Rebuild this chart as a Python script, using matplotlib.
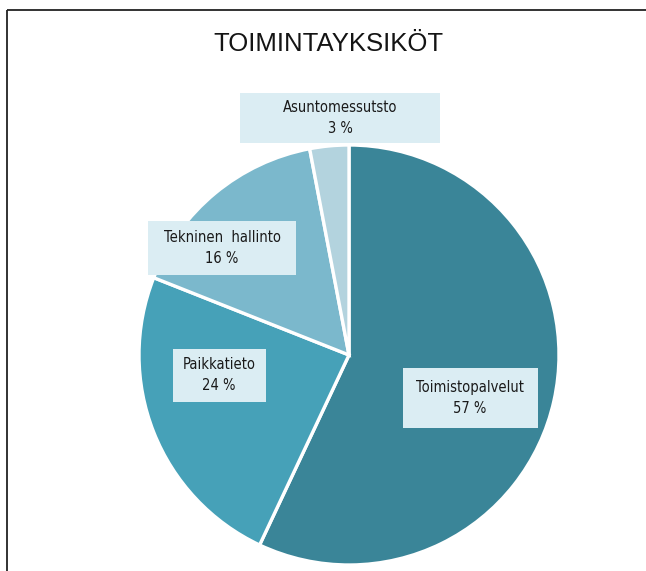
import matplotlib
matplotlib.use("Agg")
import matplotlib.pyplot as plt
from matplotlib import font_manager
from matplotlib.patches import Rectangle

# Data
categories = ["Toimistopalvelut", "Paikkatieto", "Tekninen  hallinto", "Asuntomessutsto"]
shares = [57, 24, 16, 3]
colors = ["#3a8598", "#46a1b8", "#7bb8cc", "#b3d3de"]
title = "TOIMINTAYKSIKÖT"

# Label box layout in pixels: centre x, centre y, width, height
label_boxes = [
    (470, 398, 135, 60),
    (219, 375, 93, 53),
    (222, 248, 148, 54),
    (340, 118, 200, 50),
]

W, H = 646, 571
CX, CY, R = 349, 355, 210

# look for a condensed face, the reference labels use a narrow font
fonts = font_manager.fontManager.ttflist
names = {f.name for f in fonts}
condensed = [f for f in fonts if f.name == "DejaVu Sans" and "Condensed" in f.fname]
if "Liberation Sans Narrow" in names:
    lab_font = dict(family="Liberation Sans Narrow", fontsize=12.5)
elif condensed:
    lab_font = dict(family="DejaVu Sans", fontstretch="condensed", fontsize=10.5)
else:
    lab_font = dict(family="Liberation Sans", fontsize=10.8)

fig = plt.figure(figsize=(W / 100, H / 100), dpi=100)

# pie axes
ax = fig.add_axes([(CX - R) / W, (H - CY - R) / H, 2 * R / W, 2 * R / H])
ax.pie(shares, colors=colors, startangle=90, counterclock=False,
       radius=1.0, wedgeprops=dict(edgecolor="white", linewidth=2.4))
ax.set_xlim(-1, 1)
ax.set_ylim(-1, 1)
ax.set_aspect("equal")
ax.axis("off")

# overlay in pixel coordinates for frame, title and labels
ov = fig.add_axes([0, 0, 1, 1], zorder=5)
ov.set_xlim(0, W)
ov.set_ylim(H, 0)
ov.axis("off")
ov.patch.set_alpha(0)

ov.plot([7, 7], [10, H], color="#222222", lw=1.3, solid_capstyle="butt")
ov.plot([7, W], [10, 10], color="#222222", lw=1.3, solid_capstyle="butt")

ov.text(328, 44, title, ha="center", va="center", fontsize=18.5,
        family="Liberation Sans", color="#141414")

for name, val, (bx, by, bw, bh) in zip(categories, shares, label_boxes):
    ov.add_patch(Rectangle((bx - bw / 2, by - bh / 2), bw, bh,
                           facecolor="#dbedf3", edgecolor="none"))
    ov.text(bx, by, f"{name}\n{val} %", ha="center", va="center",
            multialignment="center", linespacing=1.55,
            color="#1a1a1a", **lab_font)

fig.savefig("out.png", dpi=100)
